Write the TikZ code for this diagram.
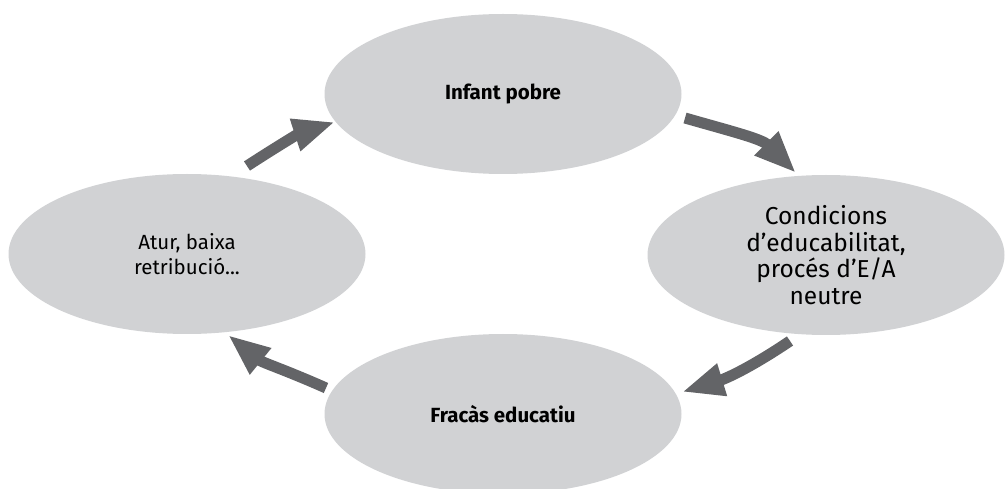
\documentclass[tikz,border=0pt]{standalone}
\usepackage{fontspec}
\setmainfont{Fira Sans}
\usetikzlibrary{shapes.geometric,arrows.meta}
\definecolor{ellgray}{HTML}{D1D2D4}
\definecolor{arrgray}{HTML}{636467}
\tikzset{
  bubble/.style={ellipse, fill=ellgray, draw=none, inner sep=0pt, align=center,
    minimum width=357pt, minimum height=160pt},
  boldtext/.style={font=\fontsize{20.5}{25}\selectfont\bfseries},
  cyclearrow/.style={draw=arrgray, line width=11pt, -{Triangle[width=31pt,length=42pt]}, fill=arrgray},
}
\begin{document}
\begin{tikzpicture}[x=1pt,y=1pt]
\useasboundingbox (0,0) rectangle (1005,488);
\node[bubble, boldtext] (top) at (503,394) {Infant pobre};
\node[bubble, font=\fontsize{24.5}{26.5}\selectfont] (right) at (826,233) {Condicions\\d’educabilitat,\\procés d’E/A\\neutre};
\node[bubble, font=\fontsize{20.5}{25}\selectfont] (left) at (187,234) {Atur, baixa\\retribució...};
\node[bubble, boldtext] (bottom) at (503,74) {Fracàs educatiu};
\coordinate (a1s) at (247,322);
\coordinate (a1e) at (335,366);
\coordinate (a2s) at (685,370);
\coordinate (a2e) at (796,315);
\coordinate (a3s) at (790,147);
\coordinate (a3e) at (682,96);
\coordinate (a4s) at (326,100);
\coordinate (a4e) at (228,153);
\draw[cyclearrow] (a1s) to[out=33,in=198] (a1e);
\draw[cyclearrow] (a2s) to[out=-16,in=135] (a2e);
\draw[cyclearrow] (a3s) to[out=214,in=17] (a3e);
\draw[cyclearrow] (a4s) to[out=156,in=-39] (a4e);
\end{tikzpicture}
\end{document}
